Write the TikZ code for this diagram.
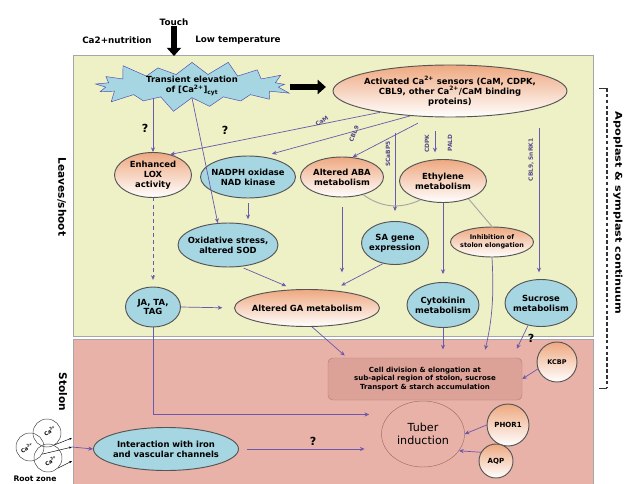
\documentclass[tikz,border=0pt]{standalone}
\usepackage{fontspec}
\setmainfont{DejaVu Sans}
\usetikzlibrary{positioning,arrows.meta,shapes.geometric,shapes.symbols,calc}
\definecolor{leafbg}{RGB}{238,240,198}
\definecolor{stolonbg}{RGB}{232,178,168}
\definecolor{cellbg}{RGB}{220,162,152}
\definecolor{skyfill}{RGB}{166,214,226}
\definecolor{peach}{RGB}{238,168,128}
\definecolor{pathc}{RGB}{108,88,172}
\definecolor{edgegray}{RGB}{85,85,85}

\begin{document}
\begin{tikzpicture}
[
    x=0.03cm, y=-0.03cm,
    font=\bfseries,
    wh/.code 2 args = {\pgfmathsetmacro\whw{#1*0.03}\pgfmathsetmacro\whh{#2*0.03}\tikzset{minimum width=\whw cm, minimum height=\whh cm}},
    arr/.style = {draw=pathc, semithick, -{Stealth[length=4pt,width=3.5pt]}},
]

\tikzstyle{cyanball}=[ellipse, draw=edgegray, thick, fill=skyfill, inner sep=-8pt, align=center, font=\fontsize{7.2}{8.5}\selectfont\bfseries]
\tikzstyle{peachball}=[ellipse, draw=edgegray, thick, top color=peach, bottom color=white, inner sep=-8pt, align=center, font=\fontsize{7.2}{8.5}\selectfont\bfseries]
\tikzstyle{arrtag}=[font=\fontsize{5}{5}\selectfont\bfseries, text=pathc!80!black, inner sep=0pt]
\tikzstyle{qmark}=[font=\fontsize{9.5}{10}\selectfont\bfseries, inner sep=0pt]
\tikzstyle{zonelabel}=[font=\fontsize{9}{10}\selectfont\bfseries, rotate=-90, inner sep=0pt]
\tikzstyle{stimulus}=[font=\fontsize{7.5}{8}\selectfont\bfseries, inner sep=0pt]
\tikzstyle{bigarrow}=[line width=4.5pt, -{Triangle[length=7pt,width=12pt]}]
\tikzstyle{rootring}=[circle, draw=gray!50!black, minimum size=0.84cm, inner sep=0pt]
\tikzstyle{roottext}=[font=\fontsize{4.5}{5}\selectfont\bfseries, inner sep=0pt]

\useasboundingbox (0,0) rectangle (624,484);
\filldraw[fill=leafbg, draw=gray!70] (73,55) rectangle (593,336);
\filldraw[fill=stolonbg, draw=gray!70] (73,339) rectangle (593,486);

\node[stimulus] (touch) at (174,22) {Touch};
\node[stimulus] (nutrition) at (117,40) {Ca2+nutrition};
\node[stimulus] (lowtemp) at (238,40) {Low temperature};
\coordinate (touchend) at (174,56);
\draw[bigarrow] (touch.south) -- (touchend);

\node[starburst, fill=skyfill, draw=gray!60!blue, starburst points=17, starburst point height=0.5cm, minimum width=6.2cm, minimum height=1.7cm, inner sep=-4pt, align=center, font=\fontsize{7.2}{8.5}\selectfont\bfseries] (burst) at (192,86) {Transient elevation\\of [Ca\textsuperscript{2+}]\textsubscript{cyt}};
\node[peachball, wh={234}{52}] (sensors) at (450,91) {Activated Ca\textsuperscript{2+} sensors (CaM, CDPK,\\CBL9, other Ca\textsuperscript{2+}/CaM binding\\proteins)};
\draw[bigarrow, shorten <=0.25cm, shorten >=0.2cm] (burst.east |- 0,87) -- (sensors.west |- 0,87);

\node[zonelabel] (leaves) at (62,197) {Leaves/shoot};
\node[zonelabel] (stolon) at (63,392) {Stolon};
\node[zonelabel, font=\fontsize{8}{9}\selectfont\bfseries] (apoplast) at (618,213) {\scalebox{1.2}[1]{Apoplast \& symplast continuum}};
\coordinate (brtop) at (599,88);
\coordinate (brtopr) at (607,88);
\coordinate (brbotr) at (607,388);
\coordinate (brbot) at (599,388);
\draw[gray!40!black] (brtop) -- (brtopr) (brbotr) -- (brbot);
\draw[gray!40!black, densely dashed, line width=1pt] (brtopr) -- (brbotr);

\node[peachball, wh={77}{45}] (lox) at (153,175) {Enhanced\\LOX\\activity};
\node[cyanball, wh={95}{42}] (nadph) at (248,177) {NADPH oxidase\\NAD kinase};
\node[peachball, wh={83}{40}] (aba) at (342,177) {Altered ABA\\metabolism};
\node[peachball, wh={87}{43}] (ethylene) at (443,181) {Ethylene\\metabolism};
\node[cyanball, wh={100}{44}] (oxidative) at (228,245) {Oxidative stress,\\altered SOD};
\node[cyanball, wh={67}{43}] (sa) at (395,243) {SA gene\\expression};
\node[peachball, wh={83}{30}, font=\fontsize{5.5}{6.5}\selectfont\bfseries] (inhibition) at (492,242) {Inhibition of\\stolon elongation};
\node[cyanball, wh={55}{40}] (ja) at (153,307) {JA, TA,\\TAG};
\node[peachball, wh={145}{37}] (ga) at (307,308) {Altered GA metabolism};
\node[cyanball, wh={72}{45}] (cytokinin) at (443,305) {Cytokinin\\metabolism};
\node[cyanball, wh={72}{47}] (sucrose) at (541,303) {Sucrose\\metabolism};

\node[rectangle, rounded corners=4pt, fill=cellbg, draw=cellbg!80!black, wh={194}{42}, align=center, font=\fontsize{6}{7}\selectfont\bfseries] (cell) at (425,379) {Cell division \& elongation at\\sub-apical region of stolon, sucrose\\Transport \& starch accumulation};
\node[ellipse, draw=cellbg!70!black, wh={83}{66}, inner sep=-8pt, align=center, font=\fontsize{9.5}{11}\selectfont\mdseries] (tuber) at (423,434) {Tuber\\induction};
\node[circle, draw=edgegray, thick, top color=peach, bottom color=white, minimum size=1.2cm, inner sep=0pt, font=\fontsize{5.5}{6}\selectfont\bfseries] (kcbp) at (557,362) {KCBP};
\node[circle, draw=edgegray, thick, top color=peach, bottom color=white, minimum size=1.26cm, inner sep=0pt, font=\fontsize{6}{6}\selectfont\bfseries] (phor) at (508,425) {PHOR1};
\node[circle, draw=edgegray, thick, top color=peach, bottom color=white, minimum size=1.02cm, inner sep=0pt, font=\fontsize{6}{6}\selectfont\bfseries] (aqp) at (496,461) {AQP};
\node[cyanball, wh={145}{43}] (interaction) at (166,449) {Interaction with iron\\and vascular channels};

% root zone calcium
\node[rootring] (rootA) at (47,433) {};
\node[rootring] (rootB) at (30,447) {};
\node[rootring] (rootC) at (48,458) {};
\node[roottext, rotate=35] (caA) at (50,431) {Ca\textsuperscript{2+}};
\node[roottext, rotate=30] (caB) at (27,448) {Ca\textsuperscript{2+}};
\node[roottext, rotate=35] (caC) at (51,461) {Ca\textsuperscript{2+}};
\node[font=\fontsize{6.5}{7}\selectfont\bfseries, inner sep=0pt] (rootzone) at (35,479) {Root zone};
\coordinate (rA) at (72,438);
\coordinate (rB) at (72,447);
\coordinate (rC) at (72,461);
\draw[-{Stealth[length=2.5pt]}] (rootA.-55) -- (rA);
\draw[-{Stealth[length=2.5pt]}] (rootB.-30) -- (rB);
\draw[-{Stealth[length=2.5pt]}] (rootC.-45) -- (rC);
\draw[arr] (rB) -- (interaction.west);

% signals from the calcium burst
\draw[arr] (lox.north |- burst.south) -- (lox.north);
\node[qmark] (q1) at (145,128) {?};
\draw[arr] (burst.south) -- (oxidative.115);
\node[qmark] (q2) at (225,130) {?};

% signals from the sensors
\draw[arr] (sensors.197) -- (lox.50);
\draw[arr, shorten >=0.3cm] (sensors.212) -- (nadph.55);
\node[arrtag, rotate=35] (camlab) at (322,121) {CaM};
\draw[arr, shorten <=0.4cm] (sensors.232) -- (aba.62);
\node[arrtag, rotate=68] (cbllab) at (354,134) {CBL9};
\coordinate (scab) at (395,133);
\draw[arr, shorten >=0.3cm] (scab) -- (sa.north);
\node[arrtag, rotate=90] (scablab) at (388,154) {SCaBP5};
\coordinate (cdpk) at (435,131);
\draw[arr, shorten >=0.2cm] (cdpk) -- (cdpk |- ethylene.north);
\node[arrtag, rotate=90] (cdpklab) at (427,144) {CDPK};
\node[arrtag, rotate=90] (paldlab) at (450,143) {PALD};
\coordinate (snrk) at (539,128);
\draw[arr, shorten >=0.2cm] (snrk) -- (snrk |- sucrose.north);
\node[arrtag, rotate=90] (snrklab) at (531,160) {CBL9, SnRK1};

% leaf metabolism
\draw[arr, shorten <=0.15cm, shorten >=0.1cm] (nadph.south) -- (nadph.south |- oxidative.north);
\draw[arr, dashed, shorten >=0.2cm] (lox.south) -- (ja.north);
\draw[arr, shorten <=0.3cm, shorten >=0.5cm] (aba.south) -- (aba.south |- ga.north);
\draw[gray!70, thick] (aba.-40) to[bend right=30] (ethylene.220);
\draw[gray!70, thick] (ethylene.-35) -- (inhibition.north);
\draw[arr, shorten >=0.3cm] (sa.240) -- (ga.35);
\draw[arr, shorten <=0.1cm, shorten >=0.25cm] (oxidative.-60) -- (ga.125);
\draw[arr, shorten >=0.35cm] (ja.east) -- (ga.west);
\draw[arr, shorten >=0.24cm] (ethylene.south) -- (cytokinin.north);

% into the stolon
\draw[arr, shorten >=0.25cm] (inhibition.south) to[bend left=8] ($(cell.north east)!0.2!(cell.north west)$);
\draw[arr, shorten >=0.25cm] (cytokinin.south) -- (cytokinin.south |- cell.north);
\draw[arr, shorten >=0.3cm] (sucrose.240) -- ($(cell.north east)!0.05!(cell.north west)$);
\node[qmark] (q3) at (531,338) {?};
\draw[arr, shorten >=0.1cm] (ga.-75) -- ($(cell.north west)!0.1!(cell.north east)$);
\draw[arr] (kcbp.200) -- (cell.east);
\draw[arr, shorten >=0.6cm] (ja.south) |- (tuber.150);
\draw[arr, shorten <=0.25cm, shorten >=0.5cm] (interaction.east) -- (interaction.east -| tuber.west);
\node[qmark] (q4) at (313,441) {?};
\draw[arr] (phor.west) -- (tuber.east);
\draw[arr] (aqp.150) -- (tuber.-25);
%\draw[arr] (cell) -- (tuber);
\end{tikzpicture}
\end{document}
